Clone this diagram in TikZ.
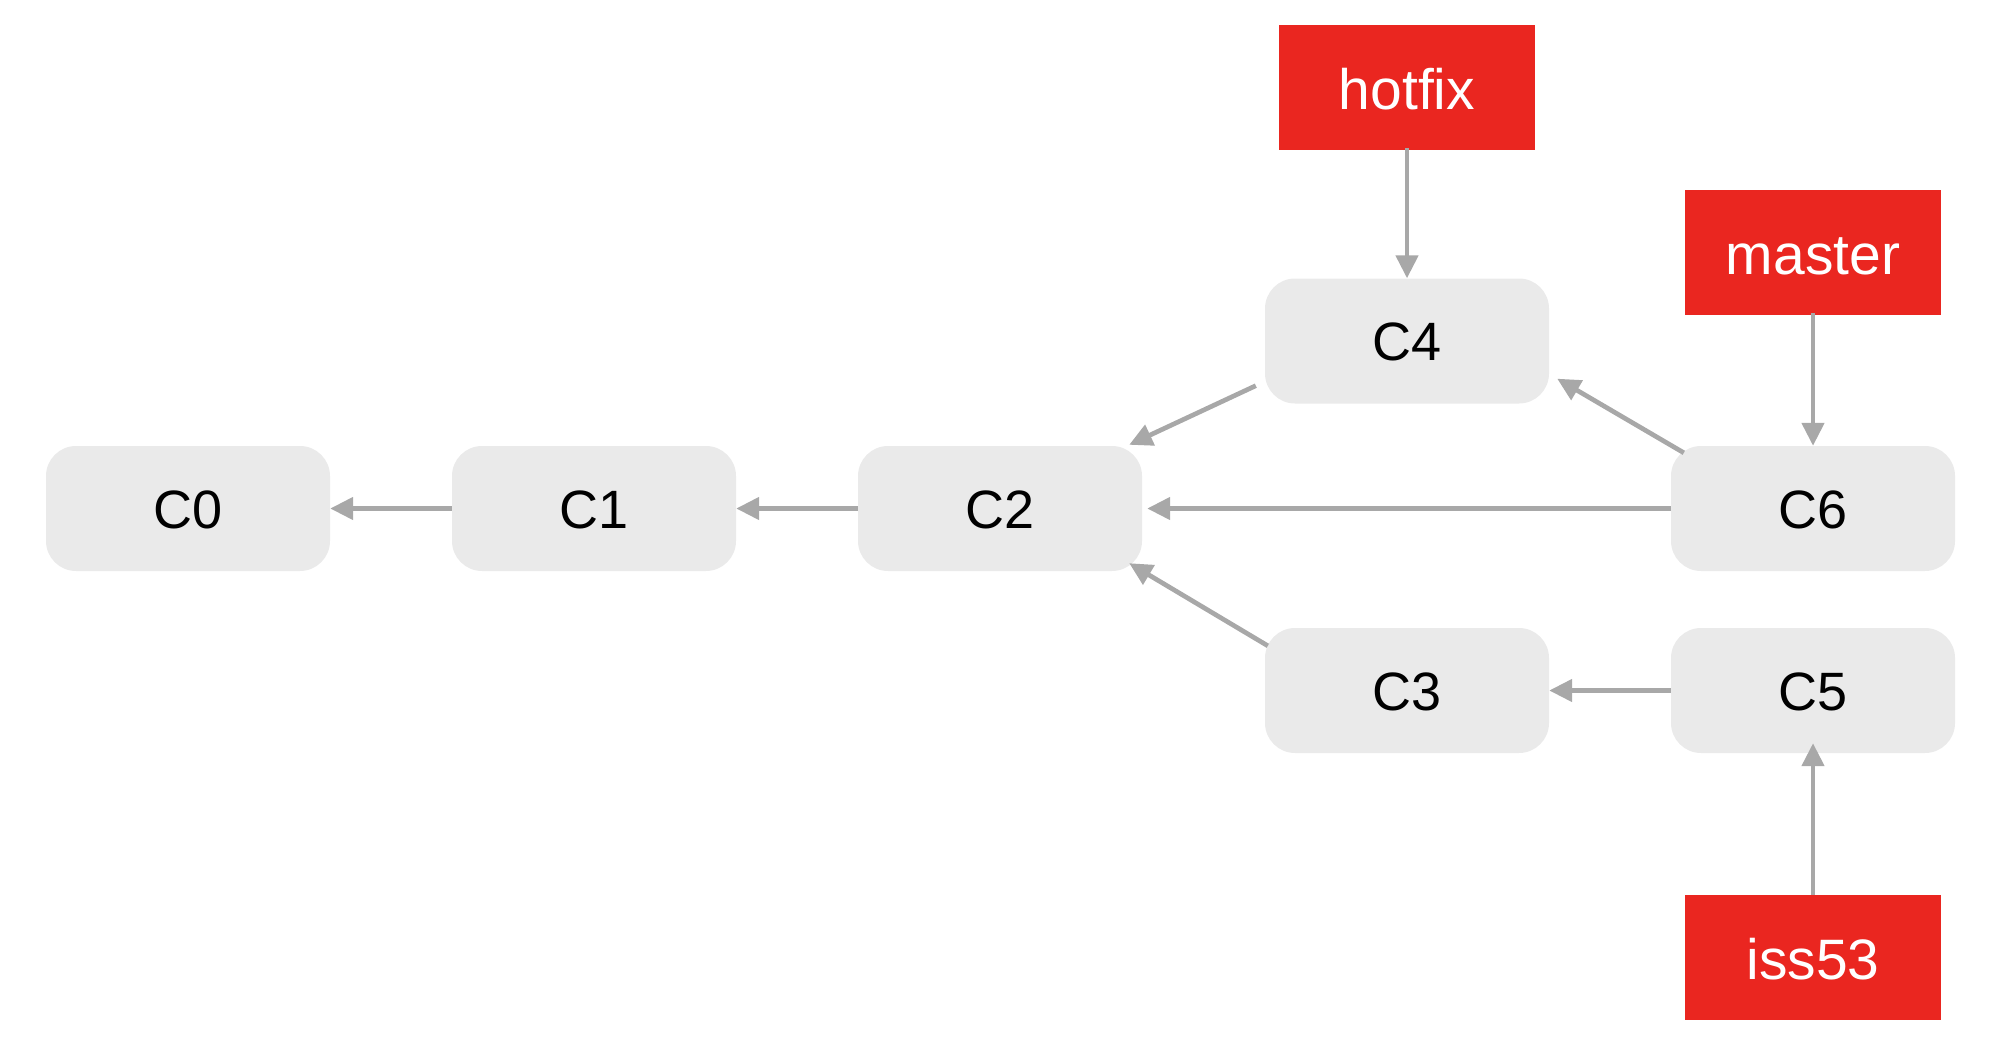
\documentclass[tikz,border=0pt]{standalone}
\usepackage{fontspec}
\setmainfont{Liberation Sans}
\usetikzlibrary{arrows.meta}
\definecolor{boxgray}{HTML}{EAEAEA}
\definecolor{branchred}{HTML}{EA2620}
\definecolor{arrowgray}{HTML}{A8A8A8}
\begin{document}
\begin{tikzpicture}[x=1pt,y=-1pt,
  commit/.style={fill=boxgray, draw=none, rounded corners=30pt, minimum width=284pt, minimum height=125pt,
    inner sep=0pt, text height=39pt, text depth=0pt, font=\fontsize{54}{60}\selectfont, text=black},
  branch/.style={fill=branchred, draw=none, minimum width=256pt, minimum height=125pt,
    inner sep=0pt, text height=44pt, text depth=0pt, font=\fontsize{57}{62}\selectfont, text=white},
  arr/.style={draw=arrowgray, line width=4.7pt, -{Triangle[length=23pt,width=22pt]}}]
\useasboundingbox (0,0) rectangle (1996,1054);
\node[commit] (C0) at (188,508.5) {C0};
\node[commit] (C1) at (594,508.5) {C1};
\node[commit] (C2) at (1000,508.5) {C2};
\node[commit] (C4) at (1407,341) {C4};
\node[commit] (C6) at (1813,508.5) {C6};
\node[commit] (C3) at (1407,690.5) {C3};
\node[commit] (C5) at (1813,690.5) {C5};
\node[branch] (hotfix) at (1407,87.5) {hotfix};
\node[branch] (master) at (1813,252.5) {master};
\node[branch] (iss53) at (1813,957.5) {iss53};
\draw[arr] (C1.west) -- (C0.east);
\draw[arr] (C2.west) -- (C1.east);
\draw[arr] (C6.west) -- ([xshift=5pt]C2.east);
\draw[arr] (C5.west) -- (C3.east);
\draw[arr] ([shift={(-9,-18)}]C4.south west) -- ([shift={(-13,-1)}]C2.north east);
\draw[arr] ([shift={(3,18)}]C3.north west) -- ([shift={(-13,-8)}]C2.south east);
\draw[arr] ([shift={(13,7)}]C6.north west) -- ([shift={(8,-25)}]C4.south east);
\draw[arr] ([yshift=2pt]hotfix.south) -- (C4.north);
\draw[arr] ([yshift=2pt]master.south) -- (C6.north);
\draw[arr] (iss53.north) -- ([yshift=10pt]C5.south);
\end{tikzpicture}
\end{document}
